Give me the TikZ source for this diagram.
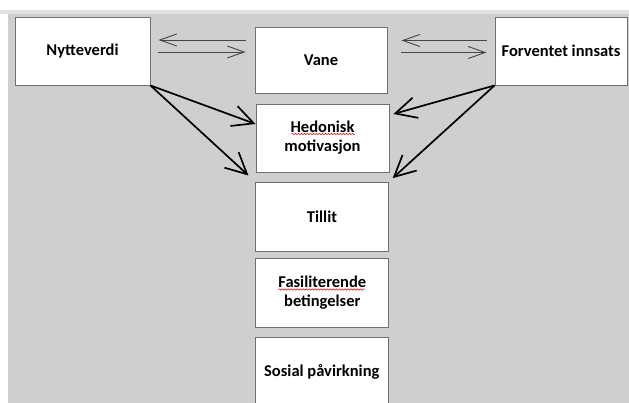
\documentclass[tikz,border=0pt]{standalone}
\usepackage{fontspec}
\setmainfont{Carlito}
\usetikzlibrary{arrows.meta,calc,decorations.pathmorphing}
\definecolor{bggray}{RGB}{208,206,206}
\definecolor{striplight}{RGB}{226,226,226}
\definecolor{boxline}{RGB}{112,112,112}
\definecolor{thinline}{RGB}{70,70,70}
\tikzset{
  x=1pt, y=-1pt,
  box/.style={draw=boxline, line width=0.9pt, fill=white, inner sep=2pt,
    align=center, font=\fontsize{16.5}{19}\selectfont\bfseries},
  thinarr/.style={draw=thinline, line width=0.9pt,
    -{Straight Barb[length=17pt,width=12pt,line width=0.9pt]}},
  thickarr/.style={draw=black, line width=1.7pt,
    -{Straight Barb[length=21pt,width=21pt,line width=1.7pt]}},
  squiggle/.style={draw=red!85!black, line width=0.45pt,
    decorate, decoration={snake, amplitude=0.7pt, segment length=3pt}}
}
\begin{document}
\begin{tikzpicture}
\useasboundingbox (0,0) rectangle (629,403);
\fill[white] (0,0) rectangle (629,403);
\fill[striplight] (0,10) rectangle (629,14);
\fill[bggray] (8,14) rectangle (629,403);

\node[box, minimum width=135pt, minimum height=68pt] (ny) at (82.5,51) {Nytteverdi};
\node[box, minimum width=132pt, minimum height=66pt] (vane) at (321,60) {Vane};
\node[box, minimum width=132pt, minimum height=68pt] (fi) at (561,51) {Forventet innsats};
\node[box, minimum width=133pt, minimum height=68pt] (hed) at (322.5,138) {Hedonisk\\motivasjon};
\node[box, minimum width=133pt, minimum height=69pt] (til) at (322,216.5) {Tillit};
\node[box, minimum width=133pt, minimum height=69pt] (fas) at (322.3,293) {Fasiliterende\\betingelser};
\node[box, minimum width=133pt, minimum height=69pt] (sos) at (321.8,371.5) {Sosial påvirkning};

% spell-check squiggles
\draw[squiggle] ($(hed.center)+(-31,-4)$) -- ($(hed.center)+(33,-4)$);
\draw[squiggle] ($(fas.center)+(-44,-3.5)$) -- ($(fas.center)+(43,-3.5)$);

% thin double arrows
\draw[thinarr, shorten <=9pt, shorten >=8pt] (vane.west |- 0,40) -- (ny.east |- 0,40);
\draw[thinarr, shorten <=8pt, shorten >=9pt] (ny.east |- 0,52) -- (vane.west |- 0,52);
\draw[thinarr, shorten <=8pt, shorten >=14pt] (fi.west |- 0,40.5) -- (vane.east |- 0,40.5);
\draw[thinarr, shorten <=14pt, shorten >=8pt] (vane.east |- 0,52.5) -- (fi.west |- 0,52.5);

% thick arrows
\draw[thickarr] (ny.south east) -- ([yshift=14pt]hed.west);
\draw[thickarr, shorten >=9pt] (ny.south east) -- (til.north west);
\draw[thickarr] (fi.south west) -- ([xshift=4pt,yshift=24pt]hed.east);
\draw[thickarr, shorten >=5pt] (fi.south west) -- (til.north east);
\end{tikzpicture}
\end{document}
